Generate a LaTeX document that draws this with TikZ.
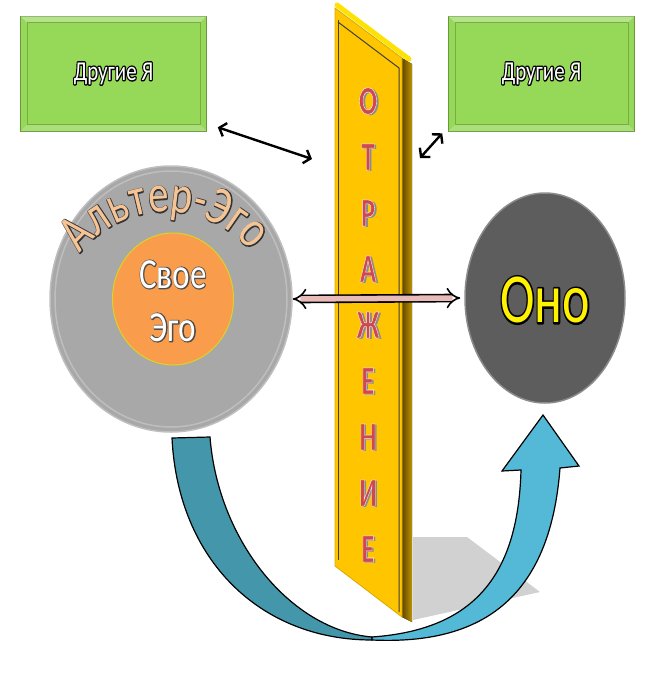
\documentclass[tikz,border=0pt]{standalone}
\usepackage{fontspec}
\setmainfont{Carlito}
\usepackage{graphicx}
\usetikzlibrary{arrows.meta, shapes.geometric}

\definecolor{boxgreen}{RGB}{150,216,88}
\definecolor{mirgold}{RGB}{255,198,0}
\definecolor{mirdark}{RGB}{96,70,0}
\definecolor{ringgray}{RGB}{168,168,168}
\definecolor{egoorange}{RGB}{249,157,76}
\definecolor{onogray}{RGB}{93,93,93}
\definecolor{turndark}{RGB}{68,151,171}
\definecolor{turnlight}{RGB}{84,185,214}
\definecolor{peach}{RGB}{246,196,148}
\definecolor{letterred}{RGB}{208,72,78}
\definecolor{shaftpink}{RGB}{232,186,184}

% text with a thin rim: stroke width, stroke grey, text
\newcommand\rimtext[3]{\special{pdf:literal direct #1 w 2 Tr #2 #2 #2 RG}#3\special{pdf:literal direct 0 Tr}}
% text with an outer rim: stroke width, stroke grey, text
\newcommand\ringtext[3]{\rlap{\special{pdf:literal direct #1 w 1 Tr #2 #2 #2 RG 1 j}#3\special{pdf:literal direct 0 Tr}}#3}
\newcommand\tallbox[1]{\scalebox{1}[1.3]{#1}}

\begin{document}
\begin{tikzpicture}[x=1pt, y=-1pt,
  every node/.style={inner sep=0pt},
  otherbox/.style={rectangle, fill=boxgreen, draw=boxgreen!70!black, line width=0.6pt,
    minimum width=186pt, minimum height=115pt, text=white, font=\fontsize{21}{24}\selectfont},
  linkarrow/.style={line width=2.4pt, {Straight Barb[length=6pt, width=14pt]}-{Straight Barb[length=6pt, width=14pt]}},
  mirrorletter/.style={font=\fontsize{27}{28}\selectfont\bfseries, text=letterred},
  letterdepth/.style={font=\fontsize{27}{28}\selectfont\bfseries, text=black!45},
  arcletter/.style={font=\fontsize{41}{46}\selectfont, text=peach, anchor=base}]

  \useasboundingbox (0,0) rectangle (661,673);

  % shadow of the mirror
  \fill[black!18] (413,537) -- (467,537) -- (540,592) -- (413,620) -- cycle;

  % turning arrow
  \filldraw[fill=turndark, draw=black, line width=1.2pt] (172,438) -- (210,437)
    .. controls (218,540) and (290,630) .. (372,637) -- (372,640)
    .. controls (260,640) and (178,560) .. (172,438) -- cycle;
  \filldraw[fill=turnlight, draw=black, line width=1.2pt] (372,637)
    .. controls (470,630) and (518,580) .. (521,470) -- (502,471) -- (543,415)
    -- (579,466) -- (560,468) .. controls (550,600) and (480,645) .. (372,640) -- cycle;

  % mirror
  \fill[left color=mirdark, right color=mirgold!75!black] (402,58) -- (412,64) -- (412,622) -- (402,617) -- cycle;
  \filldraw[fill=mirgold, draw=mirgold!85!black, line width=0.8pt] (335,8) -- (402,58) -- (402,617) -- (335,566) -- cycle;
  \draw[line width=5pt, yellow!85!orange, line cap=round] (337,5) -- (409,59);
  \draw[black!75, line width=1pt] (338,20) -- (338,560);
  \draw[black!75, line width=1pt] (338,22) -- (399,68) -- (399,612);
  \foreach \ch [count=\i from 0] in {О,Т,Р,А,Ж,Е,Н,И,Е} {
    \node[letterdepth] (s\i) at (370.5,101+56*\i+1.5) {\scalebox{1}[1.5]{\ch}};
    \node[mirrorletter] (l\i) at (368,101+56*\i) {\scalebox{1}[1.5]{\rimtext{0.35}{0.95}{\ch}}};
  }

  % selves
  \node[ellipse, minimum width=242pt, minimum height=266pt, fill=ringgray, draw=black!25, line width=1.5pt] (alter) at (171,299) {};
  \draw[white!25!ringgray, line width=1.5pt] (171,299) ellipse[x radius=116, y radius=128];
  \node[ellipse, minimum width=121pt, minimum height=132pt, fill=egoorange, draw=yellow!85!black, line width=1pt] (ego) at (173,299) {};
  \node[text=white, align=center, font=\fontsize{33}{53}\selectfont] (egotext) at (173,301) {\tallbox{\ringtext{1.6}{0.3}{Свое}}\\\tallbox{\ringtext{1.6}{0.3}{Эго}}};
  \foreach \ch/\a [count=\i] in {А/-135.5, л/-123.8, ь/-113.2, т/-103.5, е/-93.7, р/-82.9, -/-74.1, Э/-65.0, г/-55.1, о/-45.6} {
    \node[arcletter, rotate={-1*(\a)-90}] (a\i) at ({166.5+110*cos(\a)},{322+110*sin(\a)}) {\tallbox{\ringtext{1.6}{0.2}{\ch}}};
  }

  \node[ellipse, minimum width=160pt, minimum height=210pt, fill=onogray, draw=black!45, line width=1.5pt] (ono) at (545,298) {};
  \node[text=yellow, font=\fontsize{52}{56}\selectfont] (onotext) at (545,300) {\scalebox{1}[1.35]{\ringtext{3}{0}{Оно}}};

  \draw[double=shaftpink, double distance=5.5pt, line width=1.6pt, {Implies}-{Implies}] (alter.east) -- ([xshift=-4pt]ono.west);

  % other selves
  \node[otherbox] (leftbox) at (113.5,73.5) {\tallbox{\ringtext{2.2}{0}{Другие Я}}};
  \node[otherbox] (rightbox) at (541.5,73.5) {\tallbox{\ringtext{2.2}{0}{Другие Я}}};
  \foreach \b in {leftbox, rightbox} {
    \fill[white, opacity=0.3] (\b.north west) -- (\b.north east) -- ([shift={(-7,7)}]\b.north east) -- ([shift={(7,7)}]\b.north west) -- cycle;
    \fill[white, opacity=0.2] (\b.south west) -- (\b.south east) -- ([shift={(-7,-7)}]\b.south east) -- ([shift={(7,-7)}]\b.south west) -- cycle;
    \draw[boxgreen!80!black, line width=0.5pt] ([shift={(7,7)}]\b.north west) rectangle ([shift={(-7,-7)}]\b.south east);
  }

  \coordinate (mirrorleft) at (312,159);
  \coordinate (mirrorright) at (420,158);
  \draw[linkarrow] ([shift={(11,-4)}]leftbox.south east) -- (mirrorleft);
  \draw[linkarrow] (mirrorright) -- ([shift={(-6,2)}]rightbox.south west);
\end{tikzpicture}
\end{document}
